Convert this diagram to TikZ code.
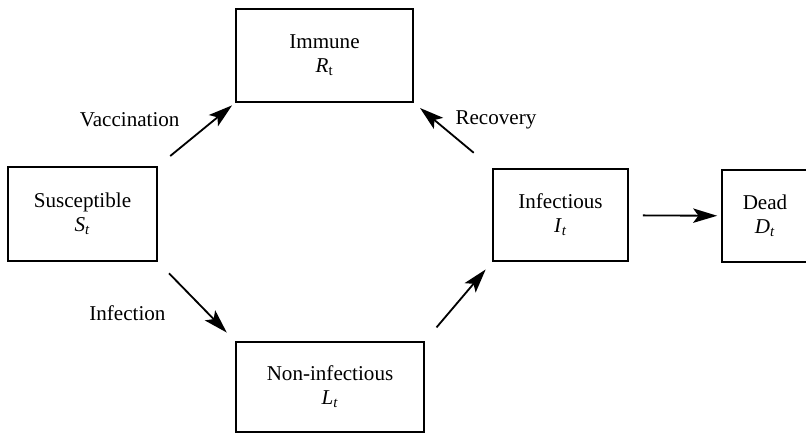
\documentclass[tikz,border=0pt]{standalone}
\usepackage{fontspec}
\setmainfont{Liberation Serif}
\usetikzlibrary{arrows.meta}
\newcommand{\compvar}[2]{\textit{#1}\textsubscript{#2}}

\begin{document}
\begin{tikzpicture}[font=\fontsize{15}{17}\selectfont,align=center,line width=1.2pt,
		comp/.style={draw,rectangle,inner sep=2pt},
		flow/.style={->,line width=1.3pt,>={Stealth[length=6mm,width=3.6mm,inset=1.3mm]}}]
		\useasboundingbox (0,0) rectangle (20.15,10.875);
		\node[comp,minimum width=3.725cm,minimum height=2.35cm] (S) at (2.0625,5.525) {Susceptible \\ \compvar{S}{\textit{t}}};
		\node[comp,minimum width=4.425cm,minimum height=2.325cm] (R) at (8.1125,9.4875) {Immune \\ \compvar{R}{t}};
		\node[comp,minimum width=4.7cm,minimum height=2.25cm] (L) at (8.25,1.2) {Non-infectious \\ \compvar{L}{\textit{t}}};
		\node[comp,minimum width=3.375cm,minimum height=2.3cm] (I) at (14.0125,5.5) {Infectious \\ \compvar{I}{\textit{t}}};
		\node[comp,minimum width=2.15cm,minimum height=2.3cm] (D) at (19.125,5.475) {Dead \\ \compvar{D}{\textit{t}}};

		\node[anchor=east] (vaclbl) at (4.625,7.875) {Vaccination};
		\node[anchor=west] (reclbl) at (11.25,7.875) {Recovery};
		\node[anchor=east] (inflbl) at (4.275,3.05) {Infection};

		\path[flow] (S.north east) edge[shorten <=4mm,shorten >=1mm] (R.south west)
		            (I.north west) edge[shorten <=6mm,shorten >=2mm] (R.south east)
		            (S.south east) edge[shorten <=4mm,shorten >=3mm] (L.north west)
		            (L.north east) edge[shorten <=4.5mm,shorten >=2.5mm] (I.south west)
		            (I) edge[shorten <=3.5mm,shorten >=1mm] (D);
	\end{tikzpicture}
\end{document}
